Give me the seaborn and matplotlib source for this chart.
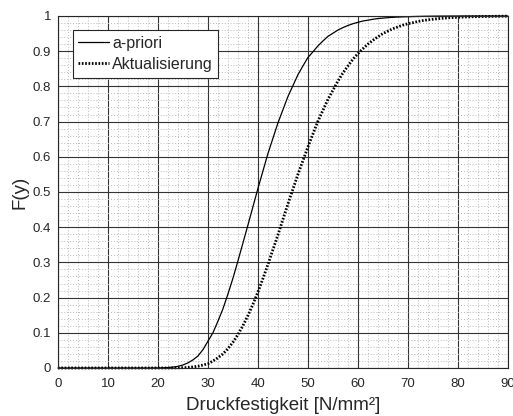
import matplotlib
matplotlib.use("Agg")
import matplotlib.pyplot as plt
import seaborn as sns
import pandas as pd
from matplotlib.ticker import MultipleLocator, FixedLocator

# Data
x_apriori = [0, 10, 16, 18, 20, 21, 22, 23, 24, 25, 26, 27, 28, 29, 30, 31, 32, 33, 34,
             35, 36, 38, 40, 42, 44, 46, 48, 49, 50, 51, 52, 53, 54, 55, 56, 57, 58, 59,
             60, 61, 62, 63, 64, 66, 68, 70, 72, 74, 76, 78, 80, 82, 84, 86, 88, 90]
f_apriori = [0, 0, 0, 0, 0.0002, 0.0005, 0.0012, 0.0025, 0.0047, 0.0085, 0.0145, 0.023,
             0.034, 0.052, 0.076, 0.100, 0.133, 0.168, 0.21, 0.255, 0.304, 0.406, 0.51,
             0.609, 0.696, 0.771, 0.833, 0.858, 0.882, 0.898, 0.915, 0.929, 0.942,
             0.951, 0.960, 0.967, 0.973, 0.978, 0.982, 0.9857, 0.988, 0.9907, 0.9926,
             0.9953, 0.997, 0.998, 0.9988, 0.9993, 0.9996, 0.9998, 0.9999, 1.0, 1.0,
             1.0, 1.0, 1.0]
x_update = [0, 10, 20, 22, 24, 25, 26, 27, 28, 29, 30, 31, 32, 33, 34, 35, 36, 37, 38,
            39, 40, 41, 42, 44, 46, 48, 50, 52, 54, 56, 57, 58, 59, 60, 61, 62, 63, 64,
            65, 66, 67, 68, 69, 70, 71, 72, 73, 74, 76, 78, 80, 82, 84, 86, 88, 90]
f_update = [0, 0, 0.0, 0.0001, 0.0004, 0.0009, 0.0016, 0.003, 0.0051, 0.0084, 0.012,
            0.0197, 0.029, 0.040, 0.055, 0.073, 0.095, 0.12, 0.149, 0.181, 0.216,
            0.254, 0.294, 0.378, 0.466, 0.55, 0.628, 0.701, 0.763, 0.815, 0.838,
            0.858, 0.877, 0.893, 0.907, 0.920, 0.931, 0.941, 0.950, 0.957, 0.964,
            0.969, 0.974, 0.978, 0.981, 0.9844, 0.987, 0.989, 0.9923, 0.9946, 0.9963,
            0.9974, 0.9982, 0.9988, 0.9992, 0.9995]
series_names = ["a-priori", "Aktualisierung"]
x_ticks = [0, 10, 20, 30, 40, 50, 60, 70, 80, 90]
y_ticks = [0, 0.1, 0.2, 0.3, 0.4, 0.5, 0.6, 0.7, 0.8, 0.9, 1]
y_tick_labels = ["0", "0.1", "0.2", "0.3", "0.4", "0.5", "0.6", "0.7", "0.8", "0.9", "1"]

df = pd.DataFrame({
    "x": x_apriori + x_update,
    "F": f_apriori + f_update,
    "Serie": [series_names[0]] * len(x_apriori) + [series_names[1]] * len(x_update),
})

sns.set_style("white")
plt.rcParams["font.family"] = ["Liberation Sans", "DejaVu Sans"]

fig = plt.figure(figsize=(5.13, 4.16), dpi=100)
ax = fig.add_axes([0.113, 0.1154, 0.877, 0.8462])

ax.set_xlim(0, 90)
ax.set_ylim(0, 1)
ax.xaxis.set_major_locator(FixedLocator(x_ticks))
ax.yaxis.set_major_locator(FixedLocator(y_ticks))
ax.xaxis.set_minor_locator(MultipleLocator(2))
ax.yaxis.set_minor_locator(MultipleLocator(0.02))
ax.grid(which="minor", color="#b8b8b8", linestyle=(0, (1, 2)), linewidth=0.7)
ax.grid(which="major", color="#333333", linestyle="-", linewidth=0.8)
ax.set_axisbelow(True)

sns.lineplot(data=df, x="x", y="F", hue="Serie", style="Serie",
             palette=["black", "black"], dashes=False, ax=ax, legend=False,
             estimator=None, sort=True)
data_lines = [l for l in ax.get_lines() if len(l.get_xdata()) > 10]
data_lines[0].set_linewidth(0.9)
data_lines[0].set_linestyle("-")
data_lines[1].set_linewidth(2.0)
data_lines[1].set_linestyle((0, (0.6, 0.6)))
for l in data_lines:
    l.set_clip_on(False)

ax.set_yticklabels(y_tick_labels)
ax.tick_params(axis="both", which="major", labelsize=9.5, direction="in", length=0,
               colors="#262626")
ax.tick_params(axis="x", pad=7)
ax.tick_params(axis="y", pad=5)
ax.tick_params(which="minor", length=0)
for s in ax.spines.values():
    s.set_color("#262626")
    s.set_linewidth(0.8)

ax.set_xlabel("Druckfestigkeit [N/mm²]", fontsize=13.5, color="#262626", labelpad=5)
ax.set_ylabel("F(y)", fontsize=13.5, color="#262626", labelpad=3)

leg = ax.legend(data_lines, series_names, loc="upper left",
                bbox_to_anchor=(0.033, 0.96), fontsize=11.5, frameon=True,
                fancybox=False, framealpha=1, edgecolor="#262626",
                handlelength=1.9, handletextpad=0.2, borderpad=0.35,
                labelspacing=0.4, borderaxespad=0)
leg.get_frame().set_linewidth(0.8)

fig.savefig("out.png", dpi=100)
